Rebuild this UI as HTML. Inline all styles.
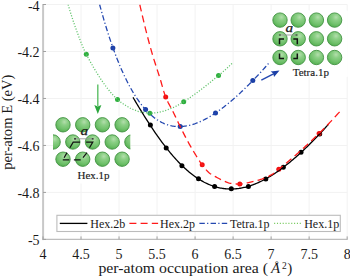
<!DOCTYPE html>
<html><head><meta charset="utf-8"><style>
html,body{margin:0;padding:0;background:#fff;}
body{width:350px;height:277px;overflow:hidden;}
svg{display:block;}
.t{font-family:"Liberation Serif",serif;font-size:14px;fill:#1a1a1a;}
.l{font-family:"Liberation Serif",serif;font-size:12px;fill:#1a1a1a;}
.s{font-family:"Liberation Serif",serif;font-size:11px;fill:#1a1a1a;stroke:#1a1a1a;stroke-width:0.15px;}
.lab{font-family:"Liberation Serif",serif;font-size:15px;fill:#1a1a1a;}
</style></head><body>
<svg width="350" height="277" viewBox="0 0 350 277">
<defs>
<clipPath id="clip"><rect x="43.00" y="4.50" width="304.16" height="234.90"/></clipPath>
<clipPath id="cliphex"><rect x="53" y="100" width="77.3" height="80"/></clipPath>
<radialGradient id="ball" cx="0.6" cy="0.3" r="0.75">
<stop offset="0" stop-color="#b3deac"/><stop offset="0.3" stop-color="#8ccf86"/><stop offset="0.65" stop-color="#72c26d"/><stop offset="0.88" stop-color="#5cb458"/><stop offset="1" stop-color="#479a45"/></radialGradient>
</defs>
<rect width="350" height="277" fill="#fff"/>
<line x1="81.02" y1="4.50" x2="81.02" y2="239.40" stroke="#f2f2f2" stroke-width="1"/>
<line x1="119.04" y1="4.50" x2="119.04" y2="239.40" stroke="#f2f2f2" stroke-width="1"/>
<line x1="157.06" y1="4.50" x2="157.06" y2="239.40" stroke="#f2f2f2" stroke-width="1"/>
<line x1="195.08" y1="4.50" x2="195.08" y2="239.40" stroke="#f2f2f2" stroke-width="1"/>
<line x1="233.10" y1="4.50" x2="233.10" y2="239.40" stroke="#f2f2f2" stroke-width="1"/>
<line x1="271.12" y1="4.50" x2="271.12" y2="239.40" stroke="#f2f2f2" stroke-width="1"/>
<line x1="309.14" y1="4.50" x2="309.14" y2="239.40" stroke="#f2f2f2" stroke-width="1"/>
<line x1="347.16" y1="4.50" x2="347.16" y2="239.40" stroke="#f2f2f2" stroke-width="1"/>
<line x1="43.00" y1="4.50" x2="347.16" y2="4.50" stroke="#f2f2f2" stroke-width="1"/>
<line x1="43.00" y1="51.48" x2="347.16" y2="51.48" stroke="#f2f2f2" stroke-width="1"/>
<line x1="43.00" y1="98.46" x2="347.16" y2="98.46" stroke="#f2f2f2" stroke-width="1"/>
<line x1="43.00" y1="145.44" x2="347.16" y2="145.44" stroke="#f2f2f2" stroke-width="1"/>
<line x1="43.00" y1="192.42" x2="347.16" y2="192.42" stroke="#f2f2f2" stroke-width="1"/>
<line x1="43.1" y1="4.00" x2="43.1" y2="240.10" stroke="#c8c8c8" stroke-width="2"/>
<line x1="42.1" y1="239.4" x2="347.66" y2="239.4" stroke="#bdbdbd" stroke-width="1.4"/>
<line x1="43.00" y1="239.40" x2="43.00" y2="236.40" stroke="#a0a0a0" stroke-width="1"/>
<line x1="81.02" y1="239.40" x2="81.02" y2="236.40" stroke="#a0a0a0" stroke-width="1"/>
<line x1="119.04" y1="239.40" x2="119.04" y2="236.40" stroke="#a0a0a0" stroke-width="1"/>
<line x1="157.06" y1="239.40" x2="157.06" y2="236.40" stroke="#a0a0a0" stroke-width="1"/>
<line x1="195.08" y1="239.40" x2="195.08" y2="236.40" stroke="#a0a0a0" stroke-width="1"/>
<line x1="233.10" y1="239.40" x2="233.10" y2="236.40" stroke="#a0a0a0" stroke-width="1"/>
<line x1="271.12" y1="239.40" x2="271.12" y2="236.40" stroke="#a0a0a0" stroke-width="1"/>
<line x1="309.14" y1="239.40" x2="309.14" y2="236.40" stroke="#a0a0a0" stroke-width="1"/>
<line x1="347.16" y1="239.40" x2="347.16" y2="236.40" stroke="#a0a0a0" stroke-width="1"/>
<line x1="43.00" y1="4.50" x2="46.00" y2="4.50" stroke="#a0a0a0" stroke-width="1"/>
<line x1="43.00" y1="51.48" x2="46.00" y2="51.48" stroke="#a0a0a0" stroke-width="1"/>
<line x1="43.00" y1="98.46" x2="46.00" y2="98.46" stroke="#a0a0a0" stroke-width="1"/>
<line x1="43.00" y1="145.44" x2="46.00" y2="145.44" stroke="#a0a0a0" stroke-width="1"/>
<line x1="43.00" y1="192.42" x2="46.00" y2="192.42" stroke="#a0a0a0" stroke-width="1"/>
<line x1="43.00" y1="239.40" x2="46.00" y2="239.40" stroke="#a0a0a0" stroke-width="1"/>
<text x="43.00" y="258.5" text-anchor="middle" class="t">4</text>
<text x="81.02" y="258.5" text-anchor="middle" class="t">4.5</text>
<text x="119.04" y="258.5" text-anchor="middle" class="t">5</text>
<text x="157.06" y="258.5" text-anchor="middle" class="t">5.5</text>
<text x="195.08" y="258.5" text-anchor="middle" class="t">6</text>
<text x="233.10" y="258.5" text-anchor="middle" class="t">6.5</text>
<text x="271.12" y="258.5" text-anchor="middle" class="t">7</text>
<text x="309.14" y="258.5" text-anchor="middle" class="t">7.5</text>
<text x="347.16" y="258.5" text-anchor="middle" class="t">8</text>
<text x="39.6" y="10.50" text-anchor="end" class="t">-4</text>
<text x="39.6" y="57.48" text-anchor="end" class="t">-4.2</text>
<text x="39.6" y="104.46" text-anchor="end" class="t">-4.4</text>
<text x="39.6" y="151.44" text-anchor="end" class="t">-4.6</text>
<text x="39.6" y="198.42" text-anchor="end" class="t">-4.8</text>
<text x="39.6" y="245.40" text-anchor="end" class="t">-5</text>
<g clip-path="url(#clip)" fill="none">
<circle cx="150.4" cy="125.0" r="2.5" fill="#000000"/>
<circle cx="166.2" cy="148.1" r="2.5" fill="#000000"/>
<circle cx="181.9" cy="165.8" r="2.5" fill="#000000"/>
<circle cx="198.5" cy="178.7" r="2.5" fill="#000000"/>
<circle cx="214.6" cy="186.4" r="2.5" fill="#000000"/>
<circle cx="231.3" cy="188.8" r="2.5" fill="#000000"/>
<circle cx="248.4" cy="186.5" r="2.5" fill="#000000"/>
<circle cx="265.8" cy="179.1" r="2.5" fill="#000000"/>
<circle cx="283.3" cy="167.3" r="2.5" fill="#000000"/>
<circle cx="301.0" cy="152.3" r="2.5" fill="#000000"/>
<circle cx="319.7" cy="134.0" r="2.5" fill="#000000"/>
<circle cx="165.7" cy="97.1" r="2.5" fill="#ee1111"/>
<circle cx="202.2" cy="164.8" r="2.5" fill="#ee1111"/>
<circle cx="239.8" cy="184.1" r="2.5" fill="#ee1111"/>
<circle cx="278.8" cy="169.2" r="2.5" fill="#ee1111"/>
<circle cx="319.1" cy="133.4" r="2.5" fill="#ee1111"/>
<circle cx="112.9" cy="47.9" r="2.5" fill="#1b3fa6"/>
<circle cx="145.6" cy="109.6" r="2.5" fill="#1b3fa6"/>
<circle cx="180.2" cy="126.6" r="2.5" fill="#1b3fa6"/>
<circle cx="215.5" cy="113.0" r="2.5" fill="#1b3fa6"/>
<circle cx="252.8" cy="80.6" r="2.5" fill="#1b3fa6"/>
<circle cx="86.3" cy="54.3" r="2.5" fill="#2eaf3e"/>
<circle cx="117.5" cy="99.6" r="2.5" fill="#2eaf3e"/>
<circle cx="149.9" cy="113.2" r="2.5" fill="#2eaf3e"/>
<circle cx="183.7" cy="101.8" r="2.5" fill="#2eaf3e"/>
<circle cx="218.5" cy="75.6" r="2.5" fill="#2eaf3e"/>
<path d="M133.00,97.34 L133.98,99.01 L134.96,100.66 L135.95,102.32 L136.93,103.96 L137.91,105.60 L138.89,107.22 L139.88,108.84 L140.86,110.45 L141.84,112.05 L142.82,113.65 L143.81,115.23 L144.79,116.80 L145.77,118.36 L146.75,119.90 L147.74,121.44 L148.72,122.96 L149.70,124.48 L150.68,125.97 L151.67,127.46 L152.65,128.93 L153.63,130.39 L154.61,131.84 L155.60,133.27 L156.58,134.68 L157.56,136.09 L158.54,137.47 L159.53,138.84 L160.51,140.20 L161.49,141.54 L162.47,142.86 L163.45,144.17 L164.44,145.46 L165.42,146.73 L166.40,147.99 L167.38,149.23 L168.37,150.46 L169.35,151.66 L170.33,152.85 L171.31,154.02 L172.30,155.17 L173.28,156.31 L174.26,157.42 L175.24,158.52 L176.23,159.60 L177.21,160.66 L178.19,161.70 L179.17,162.73 L180.16,163.73 L181.14,164.72 L182.12,165.68 L183.10,166.63 L184.09,167.56 L185.07,168.46 L186.05,169.35 L187.03,170.22 L188.02,171.07 L189.00,171.90 L189.98,172.71 L190.96,173.50 L191.94,174.27 L192.93,175.02 L193.91,175.75 L194.89,176.46 L195.87,177.15 L196.86,177.82 L197.84,178.48 L198.82,179.11 L199.80,179.72 L200.79,180.31 L201.77,180.88 L202.75,181.43 L203.73,181.97 L204.72,182.48 L205.70,182.97 L206.68,183.44 L207.66,183.90 L208.65,184.33 L209.63,184.74 L210.61,185.14 L211.59,185.51 L212.58,185.87 L213.56,186.20 L214.54,186.52 L215.52,186.82 L216.51,187.10 L217.49,187.36 L218.47,187.60 L219.45,187.82 L220.43,188.02 L221.42,188.20 L222.40,188.37 L223.38,188.51 L224.36,188.64 L225.35,188.75 L226.33,188.84 L227.31,188.91 L228.29,188.97 L229.28,189.01 L230.26,189.03 L231.24,189.03 L232.22,189.01 L233.21,188.98 L234.19,188.93 L235.17,188.86 L236.15,188.77 L237.14,188.67 L238.12,188.55 L239.10,188.42 L240.08,188.26 L241.07,188.09 L242.05,187.91 L243.03,187.71 L244.01,187.49 L244.99,187.26 L245.98,187.01 L246.96,186.74 L247.94,186.46 L248.92,186.17 L249.91,185.86 L250.89,185.53 L251.87,185.19 L252.85,184.84 L253.84,184.47 L254.82,184.09 L255.80,183.69 L256.78,183.27 L257.77,182.85 L258.75,182.41 L259.73,181.95 L260.71,181.49 L261.70,181.01 L262.68,180.51 L263.66,180.01 L264.64,179.49 L265.63,178.95 L266.61,178.41 L267.59,177.85 L268.57,177.28 L269.56,176.70 L270.54,176.11 L271.52,175.50 L272.50,174.88 L273.48,174.25 L274.47,173.61 L275.45,172.96 L276.43,172.30 L277.41,171.62 L278.40,170.94 L279.38,170.24 L280.36,169.54 L281.34,168.82 L282.33,168.09 L283.31,167.36 L284.29,166.61 L285.27,165.85 L286.26,165.09 L287.24,164.31 L288.22,163.52 L289.20,162.73 L290.19,161.92 L291.17,161.11 L292.15,160.29 L293.13,159.45 L294.12,158.61 L295.10,157.76 L296.08,156.91 L297.06,156.04 L298.05,155.16 L299.03,154.28 L300.01,153.39 L300.99,152.49 L301.97,151.58 L302.96,150.66 L303.94,149.74 L304.92,148.81 L305.90,147.87 L306.89,146.92 L307.87,145.97 L308.85,145.01 L309.83,144.04 L310.82,143.06 L311.80,142.07 L312.78,141.08 L313.76,140.08 L314.75,139.07 L315.73,138.06 L316.71,137.04 L317.69,136.01 L318.68,134.97 L319.66,133.93 L320.64,132.88 L321.62,131.82 L322.61,130.76 L323.59,129.69 L324.57,128.61 L325.55,127.52 L326.54,126.43 L327.52,125.33 L328.50,124.22" stroke="#000000" stroke-width="1.3" />
<path d="M139.80,4.60 L140.81,9.05 L141.81,13.43 L142.82,17.72 L143.83,21.94 L144.84,26.07 L145.84,30.13 L146.85,34.10 L147.86,37.99 L148.86,41.79 L149.87,45.52 L150.88,49.15 L151.88,52.69 L152.89,56.08 L153.90,59.37 L154.91,62.56 L155.91,65.70 L156.92,68.81 L157.93,71.91 L158.93,75.05 L159.94,78.24 L160.95,81.56 L161.95,85.07 L162.96,88.62 L163.97,92.03 L164.98,95.15 L165.98,97.80 L166.99,100.10 L168.00,102.18 L169.00,104.11 L170.01,105.96 L171.02,107.79 L172.03,109.67 L173.03,111.67 L174.04,113.75 L175.05,115.86 L176.05,117.98 L177.06,120.11 L178.07,122.22 L179.07,124.31 L180.08,126.36 L181.09,128.38 L182.10,130.39 L183.10,132.39 L184.11,134.37 L185.12,136.33 L186.12,138.27 L187.13,140.17 L188.14,142.04 L189.14,143.86 L190.15,145.65 L191.16,147.40 L192.17,149.13 L193.17,150.83 L194.18,152.50 L195.19,154.15 L196.19,155.77 L197.20,157.36 L198.21,158.94 L199.22,160.51 L200.22,162.03 L201.23,163.49 L202.24,164.85 L203.24,166.16 L204.25,167.45 L205.26,168.71 L206.26,169.91 L207.27,171.02 L208.28,172.03 L209.29,172.91 L210.29,173.67 L211.30,174.34 L212.31,174.96 L213.31,175.54 L214.32,176.08 L215.33,176.62 L216.33,177.16 L217.34,177.71 L218.35,178.26 L219.36,178.80 L220.36,179.33 L221.37,179.84 L222.38,180.32 L223.38,180.77 L224.39,181.19 L225.40,181.62 L226.41,182.05 L227.41,182.45 L228.42,182.81 L229.43,183.11 L230.43,183.33 L231.44,183.47 L232.45,183.59 L233.45,183.71 L234.46,183.81 L235.47,183.91 L236.48,183.98 L237.48,184.04 L238.49,184.08 L239.50,184.10 L240.50,184.08 L241.51,184.01 L242.52,183.88 L243.52,183.71 L244.53,183.50 L245.54,183.27 L246.55,183.02 L247.55,182.76 L248.56,182.51 L249.57,182.27 L250.57,182.04 L251.58,181.82 L252.59,181.60 L253.59,181.37 L254.60,181.14 L255.61,180.90 L256.62,180.65 L257.62,180.38 L258.63,180.10 L259.64,179.80 L260.64,179.49 L261.65,179.16 L262.66,178.80 L263.67,178.42 L264.67,178.03 L265.68,177.60 L266.69,177.16 L267.69,176.70 L268.70,176.21 L269.71,175.69 L270.71,175.16 L271.72,174.58 L272.73,173.93 L273.74,173.22 L274.74,172.46 L275.75,171.66 L276.76,170.85 L277.76,170.03 L278.77,169.22 L279.78,168.42 L280.78,167.61 L281.79,166.80 L282.80,165.98 L283.81,165.16 L284.81,164.33 L285.82,163.50 L286.83,162.66 L287.83,161.82 L288.84,160.97 L289.85,160.12 L290.86,159.26 L291.86,158.40 L292.87,157.53 L293.88,156.66 L294.88,155.78 L295.89,154.90 L296.90,154.02 L297.90,153.13 L298.91,152.23 L299.92,151.33 L300.93,150.43 L301.93,149.52 L302.94,148.61 L303.95,147.69 L304.95,146.77 L305.96,145.84 L306.97,144.91 L307.97,143.98 L308.98,143.04 L309.99,142.10 L311.00,141.15 L312.00,140.20 L313.01,139.25 L314.02,138.29 L315.02,137.33 L316.03,136.37 L317.04,135.40 L318.05,134.42 L319.05,133.45 L320.06,132.46 L321.07,131.47 L322.07,130.47 L323.08,129.46 L324.09,128.44 L325.09,127.41 L326.10,126.37 L327.11,125.33 L328.12,124.28 L329.12,123.22 L330.13,122.15 L331.14,121.08 L332.14,120.00 L333.15,118.92 L334.16,117.83 L335.16,116.74 L336.17,115.64 L337.18,114.53 L338.19,113.43 L339.19,112.31 L340.20,111.20" stroke="#ff1a1a" stroke-width="1.3" stroke-dasharray="7 4.2"/>
<path d="M99.60,4.49 L100.45,7.61 L101.30,10.68 L102.15,13.70 L103.00,16.66 L103.85,19.58 L104.70,22.44 L105.54,25.26 L106.39,28.02 L107.24,30.74 L108.09,33.41 L108.94,36.03 L109.79,38.60 L110.64,41.13 L111.49,43.61 L112.34,46.04 L113.19,48.43 L114.04,50.77 L114.89,53.07 L115.74,55.33 L116.58,57.54 L117.43,59.70 L118.28,61.83 L119.13,63.91 L119.98,65.94 L120.83,67.94 L121.68,69.90 L122.53,71.81 L123.38,73.69 L124.23,75.52 L125.08,77.31 L125.93,79.07 L126.78,80.78 L127.63,82.46 L128.47,84.10 L129.32,85.70 L130.17,87.27 L131.02,88.80 L131.87,90.29 L132.72,91.74 L133.57,93.16 L134.42,94.55 L135.27,95.89 L136.12,97.21 L136.97,98.49 L137.82,99.74 L138.67,100.95 L139.51,102.13 L140.36,103.28 L141.21,104.39 L142.06,105.47 L142.91,106.52 L143.76,107.54 L144.61,108.53 L145.46,109.49 L146.31,110.42 L147.16,111.32 L148.01,112.19 L148.86,113.03 L149.71,113.84 L150.55,114.62 L151.40,115.38 L152.25,116.10 L153.10,116.80 L153.95,117.48 L154.80,118.12 L155.65,118.74 L156.50,119.33 L157.35,119.90 L158.20,120.44 L159.05,120.96 L159.90,121.45 L160.75,121.92 L161.59,122.36 L162.44,122.78 L163.29,123.17 L164.14,123.55 L164.99,123.90 L165.84,124.22 L166.69,124.53 L167.54,124.81 L168.39,125.07 L169.24,125.31 L170.09,125.52 L170.94,125.72 L171.79,125.90 L172.64,126.05 L173.48,126.19 L174.33,126.30 L175.18,126.40 L176.03,126.47 L176.88,126.53 L177.73,126.57 L178.58,126.59 L179.43,126.59 L180.28,126.58 L181.13,126.54 L181.98,126.49 L182.83,126.42 L183.68,126.34 L184.52,126.23 L185.37,126.12 L186.22,125.98 L187.07,125.83 L187.92,125.66 L188.77,125.48 L189.62,125.28 L190.47,125.07 L191.32,124.84 L192.17,124.60 L193.02,124.34 L193.87,124.07 L194.72,123.79 L195.56,123.49 L196.41,123.18 L197.26,122.85 L198.11,122.51 L198.96,122.16 L199.81,121.80 L200.66,121.42 L201.51,121.03 L202.36,120.63 L203.21,120.22 L204.06,119.79 L204.91,119.36 L205.76,118.91 L206.61,118.45 L207.45,117.98 L208.30,117.50 L209.15,117.01 L210.00,116.50 L210.85,115.99 L211.70,115.47 L212.55,114.94 L213.40,114.39 L214.25,113.84 L215.10,113.28 L215.95,112.71 L216.80,112.13 L217.65,111.54 L218.49,110.94 L219.34,110.33 L220.19,109.71 L221.04,109.09 L221.89,108.45 L222.74,107.81 L223.59,107.16 L224.44,106.50 L225.29,105.84 L226.14,105.17 L226.99,104.48 L227.84,103.79 L228.69,103.10 L229.53,102.39 L230.38,101.68 L231.23,100.97 L232.08,100.24 L232.93,99.51 L233.78,98.77 L234.63,98.02 L235.48,97.27 L236.33,96.51 L237.18,95.75 L238.03,94.98 L238.88,94.20 L239.73,93.41 L240.57,92.62 L241.42,91.83 L242.27,91.02 L243.12,90.22 L243.97,89.40 L244.82,88.58 L245.67,87.75 L246.52,86.92 L247.37,86.09 L248.22,85.24 L249.07,84.39 L249.92,83.54 L250.77,82.68 L251.62,81.81 L252.46,80.94 L253.31,80.07 L254.16,79.19 L255.01,78.30 L255.86,77.41 L256.71,76.51 L257.56,75.61 L258.41,74.70 L259.26,73.79 L260.11,72.87 L260.96,71.95 L261.81,71.02 L262.66,70.08 L263.50,69.14 L264.35,68.20 L265.20,67.25 L266.05,66.30 L266.90,65.34 L267.75,64.37 L268.60,63.40" stroke="#2448b0" stroke-width="1.3" stroke-dasharray="5.4 2.3 1.2 2.3"/>
<path d="M68.10,4.60 L68.92,7.36 L69.75,10.08 L70.57,12.75 L71.40,15.38 L72.22,17.95 L73.05,20.48 L73.87,22.94 L74.70,25.35 L75.52,27.70 L76.35,29.98 L77.17,32.23 L78.00,34.47 L78.82,36.69 L79.64,38.87 L80.47,41.01 L81.29,43.11 L82.12,45.14 L82.94,47.11 L83.77,49.01 L84.59,50.83 L85.42,52.56 L86.24,54.19 L87.07,55.75 L87.89,57.30 L88.72,58.83 L89.54,60.34 L90.36,61.84 L91.19,63.31 L92.01,64.77 L92.84,66.21 L93.66,67.63 L94.49,69.03 L95.31,70.41 L96.14,71.77 L96.96,73.11 L97.79,74.44 L98.61,75.74 L99.44,77.02 L100.26,78.28 L101.08,79.52 L101.91,80.74 L102.73,81.94 L103.56,83.12 L104.38,84.28 L105.21,85.41 L106.03,86.52 L106.86,87.61 L107.68,88.68 L108.51,89.73 L109.33,90.75 L110.16,91.75 L110.98,92.72 L111.81,93.68 L112.63,94.61 L113.45,95.51 L114.28,96.39 L115.10,97.25 L115.93,98.08 L116.75,98.89 L117.58,99.67 L118.40,100.40 L119.23,101.07 L120.05,101.69 L120.88,102.28 L121.70,102.86 L122.53,103.43 L123.35,103.99 L124.17,104.52 L125.00,105.04 L125.82,105.55 L126.65,106.05 L127.47,106.55 L128.30,107.04 L129.12,107.51 L129.95,107.97 L130.77,108.39 L131.60,108.78 L132.42,109.14 L133.25,109.49 L134.07,109.82 L134.89,110.14 L135.72,110.44 L136.54,110.76 L137.37,111.07 L138.19,111.37 L139.02,111.64 L139.84,111.85 L140.67,112.00 L141.49,112.12 L142.32,112.22 L143.14,112.32 L143.97,112.41 L144.79,112.51 L145.61,112.64 L146.44,112.78 L147.26,112.93 L148.09,113.06 L148.91,113.15 L149.74,113.20 L150.56,113.19 L151.39,113.16 L152.21,113.12 L153.04,113.06 L153.86,112.99 L154.69,112.92 L155.51,112.83 L156.33,112.71 L157.16,112.56 L157.98,112.40 L158.81,112.22 L159.63,112.05 L160.46,111.88 L161.28,111.70 L162.11,111.50 L162.93,111.29 L163.76,111.07 L164.58,110.82 L165.41,110.54 L166.23,110.22 L167.05,109.90 L167.88,109.58 L168.70,109.26 L169.53,108.96 L170.35,108.66 L171.18,108.36 L172.00,108.05 L172.83,107.72 L173.65,107.36 L174.48,106.97 L175.30,106.56 L176.13,106.14 L176.95,105.70 L177.77,105.26 L178.60,104.81 L179.42,104.35 L180.25,103.89 L181.07,103.41 L181.90,102.92 L182.72,102.41 L183.55,101.90 L184.37,101.37 L185.20,100.84 L186.02,100.30 L186.85,99.75 L187.67,99.20 L188.49,98.64 L189.32,98.08 L190.14,97.51 L190.97,96.94 L191.79,96.36 L192.62,95.78 L193.44,95.19 L194.27,94.60 L195.09,94.01 L195.92,93.41 L196.74,92.80 L197.57,92.19 L198.39,91.58 L199.22,90.96 L200.04,90.34 L200.86,89.71 L201.69,89.08 L202.51,88.45 L203.34,87.81 L204.16,87.17 L204.99,86.53 L205.81,85.88 L206.64,85.23 L207.46,84.58 L208.29,83.92 L209.11,83.26 L209.94,82.60 L210.76,81.94 L211.58,81.27 L212.41,80.60 L213.23,79.93 L214.06,79.26 L214.88,78.58 L215.71,77.91 L216.53,77.23 L217.36,76.55 L218.18,75.86 L219.01,75.18 L219.83,74.48 L220.66,73.78 L221.48,73.07 L222.30,72.35 L223.13,71.62 L223.95,70.89 L224.78,70.15 L225.60,69.41 L226.43,68.66 L227.25,67.90 L228.08,67.14 L228.90,66.38 L229.73,65.61 L230.55,64.84 L231.38,64.07 L232.20,63.30" stroke="#62c46c" stroke-width="1.3" stroke-dasharray="1.1 1.7"/>
</g>
<rect x="270.3" y="10.5" width="77.5" height="66.3" fill="#fff"/>
<rect x="53" y="116" width="77.3" height="54" fill="#fff"/>
<rect x="76" y="170" width="36" height="13.5" fill="#fff"/>
<circle cx="280.0" cy="20.1" r="7.2" fill="url(#ball)" stroke="#429342" stroke-width="0.9"/>
<circle cx="298.2" cy="20.1" r="7.2" fill="url(#ball)" stroke="#429342" stroke-width="0.9"/>
<circle cx="316.4" cy="20.1" r="7.2" fill="url(#ball)" stroke="#429342" stroke-width="0.9"/>
<circle cx="334.6" cy="20.1" r="7.2" fill="url(#ball)" stroke="#429342" stroke-width="0.9"/>
<circle cx="280.0" cy="38.8" r="7.2" fill="url(#ball)" stroke="#429342" stroke-width="0.9"/>
<circle cx="298.2" cy="38.8" r="7.2" fill="url(#ball)" stroke="#429342" stroke-width="0.9"/>
<circle cx="316.4" cy="38.8" r="7.2" fill="url(#ball)" stroke="#429342" stroke-width="0.9"/>
<circle cx="334.6" cy="38.8" r="7.2" fill="url(#ball)" stroke="#429342" stroke-width="0.9"/>
<circle cx="280.0" cy="57.5" r="7.2" fill="url(#ball)" stroke="#429342" stroke-width="0.9"/>
<circle cx="298.2" cy="57.5" r="7.2" fill="url(#ball)" stroke="#429342" stroke-width="0.9"/>
<circle cx="316.4" cy="57.5" r="7.2" fill="url(#ball)" stroke="#429342" stroke-width="0.9"/>
<circle cx="334.6" cy="57.5" r="7.2" fill="url(#ball)" stroke="#429342" stroke-width="0.9"/>
<g clip-path="url(#cliphex)">
<circle cx="63.0" cy="124.8" r="7.2" fill="url(#ball)" stroke="#429342" stroke-width="0.9"/>
<circle cx="82.7" cy="124.8" r="7.2" fill="url(#ball)" stroke="#429342" stroke-width="0.9"/>
<circle cx="102.4" cy="124.8" r="7.2" fill="url(#ball)" stroke="#429342" stroke-width="0.9"/>
<circle cx="122.1" cy="124.8" r="7.2" fill="url(#ball)" stroke="#429342" stroke-width="0.9"/>
<circle cx="53.1" cy="142.0" r="7.2" fill="url(#ball)" stroke="#429342" stroke-width="0.9"/>
<circle cx="72.8" cy="142.0" r="7.2" fill="url(#ball)" stroke="#429342" stroke-width="0.9"/>
<circle cx="92.5" cy="142.0" r="7.2" fill="url(#ball)" stroke="#429342" stroke-width="0.9"/>
<circle cx="112.2" cy="142.0" r="7.2" fill="url(#ball)" stroke="#429342" stroke-width="0.9"/>
<circle cx="131.9" cy="142.0" r="7.2" fill="url(#ball)" stroke="#429342" stroke-width="0.9"/>
<circle cx="63.0" cy="159.2" r="7.2" fill="url(#ball)" stroke="#429342" stroke-width="0.9"/>
<circle cx="82.7" cy="159.2" r="7.2" fill="url(#ball)" stroke="#429342" stroke-width="0.9"/>
<circle cx="102.4" cy="159.2" r="7.2" fill="url(#ball)" stroke="#429342" stroke-width="0.9"/>
<circle cx="122.1" cy="159.2" r="7.2" fill="url(#ball)" stroke="#429342" stroke-width="0.9"/>
</g>
<!-- tetra marks -->
<g stroke="#111" stroke-width="1.5" fill="none">
<path d="M279.5,44.3 V39 H284"/>
<path d="M293.3,39 H297.3 V44.3"/>
<path d="M279.5,53.4 V58.4 H284"/>
<path d="M293.3,58.4 H297.3 V53.4"/>
</g>
<line x1="280.5" y1="35" x2="296" y2="35" stroke="#999" stroke-width="0.9"/><path d="M278.9,35 H280.8 M295.6,35 H297.5" stroke="#222" stroke-width="1.1"/>
<text x="285.6" y="31.7" textLength="7.6" lengthAdjust="spacingAndGlyphs" font-family="Liberation Serif" font-style="italic" font-size="13.5" fill="#1a1a1a" stroke="#1a1a1a" stroke-width="0.25">a</text>
<text x="310.8" y="75.7" text-anchor="middle" class="s">Tetra.1p</text>
<!-- hex marks -->
<g stroke="#111" stroke-width="1.2" fill="none">
<path d="M69.9,147.7 L73.2,142.1 H80"/>
<path d="M86.1,142.1 H92.8 L89.5,147.7"/>
<path d="M64.1,157.7 L67,152.6 M62.8,159.8 H69.3"/>
<path d="M73.9,159.8 H80.7 M83,157.7 L87,152.6"/>
</g>
<line x1="74.4" y1="138.8" x2="93.3" y2="138.8" stroke="#999" stroke-width="0.9"/><path d="M74,138.8 H76 M91.8,138.8 H93.6" stroke="#222" stroke-width="1.2"/>
<text x="80.6" y="134.7" textLength="7.6" lengthAdjust="spacingAndGlyphs" font-family="Liberation Serif" font-style="italic" font-size="13.5" fill="#1a1a1a" stroke="#1a1a1a" stroke-width="0.25">a</text>
<text x="93.6" y="178.6" text-anchor="middle" class="s">Hex.1p</text>
<!-- arrows -->
<line x1="97.8" y1="84.4" x2="97.8" y2="106" stroke="#5cbf66" stroke-width="1.4"/>
<path d="M94.3,105 L97.8,113.9 L101.4,105 L97.8,106.6 Z" fill="#2aa63c"/>
<line x1="261.3" y1="80.1" x2="274" y2="73.6" stroke="#2448b0" stroke-width="1.4"/>
<path d="M279.5,70.6 L270.6,71.6 L273.4,73.6 L274,77.1 Z" fill="#1b3fa6"/>
<!-- legend -->
<rect x="56.9" y="215.3" width="283.4" height="16.2" fill="#fff" stroke="#bcbcbc" stroke-width="1.1"/>
<line x1="59.8" y1="223.4" x2="87.4" y2="223.4" stroke="#000" stroke-width="1.3"/>
<text x="90.3" y="227.8" class="l">Hex.2b</text>
<line x1="129.4" y1="223.4" x2="158.1" y2="223.4" stroke="#ff1a1a" stroke-width="1.3" stroke-dasharray="7 4.2"/>
<text x="160" y="227.8" class="l">Hex.2p</text>
<line x1="199.4" y1="223.4" x2="227.6" y2="223.4" stroke="#2448b0" stroke-width="1.3" stroke-dasharray="5.4 2.3 1.2 2.3"/>
<text x="230" y="227.8" class="l">Tetra.1p</text>
<line x1="274.1" y1="223.4" x2="300.9" y2="223.4" stroke="#7acb62" stroke-width="1.3" stroke-dasharray="1.1 1.75"/>
<text x="304.2" y="227.8" class="l">Hex.1p</text>
<!-- axis labels -->
<text x="98.4" y="273.4" textLength="169.6" lengthAdjust="spacingAndGlyphs" class="lab">per-atom occupation area (</text>
<text x="271.1" y="273.2" class="lab" font-style="italic">Å</text>
<text x="281.9" y="268.9" class="lab" font-size="9.5" style="font-size:9.5px">2</text>
<text x="287.3" y="273.4" class="lab">)</text>
<text transform="translate(11.5,122.2) rotate(-90)" text-anchor="middle" class="lab" style="font-size:14.6px">per-atom E (eV)</text>
</svg>
</body></html>
